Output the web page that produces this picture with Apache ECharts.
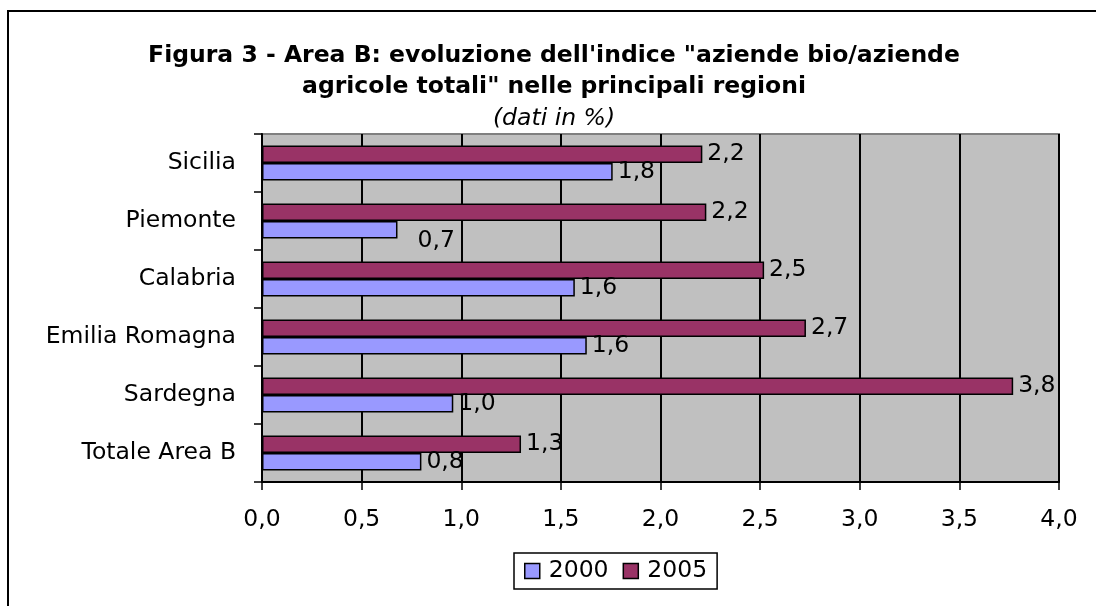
<!DOCTYPE html>
<html>
<head>
<meta charset="utf-8">
<script src="https://cdn.jsdelivr.net/npm/echarts@6/dist/echarts.min.js"></script>
<style>
  html, body { margin: 0; padding: 0; background: #fff; }
  #chart { width: 1096px; height: 606px; }
</style>
</head>
<body>
<div id="chart"></div>
<script>
// categories listed bottom -> top, as the category axis draws them
const regions = ['Totale Area B', 'Sardegna', 'Emilia Romagna', 'Calabria', 'Piemonte', 'Sicilia']
const values2000 = [0.80, 0.96, 1.63, 1.57, 0.68, 1.76]
const values2005 = [1.30, 3.77, 2.73, 2.52, 2.23, 2.21]
const xTicks = [0, 0.5, 1, 1.5, 2, 2.5, 3, 3.5, 4]

const fontFamily = 'DejaVu Sans, Verdana, sans-serif'
const fontSize = 23.5
const fmt = v => v.toFixed(1).replace('.', ',')

const mychart = echarts.init(document.getElementById('chart'), null, { renderer: 'canvas' })

const seriesData = (values, name) => values.map((v, i) => {
  const item = { value: v }
  // Excel pushed the Piemonte 2000 label a bit off the bar end
  if (name === '2000' && regions[i] === 'Piemonte') {
    item.label = { offset: [15, 11] }
  }
  return item
})

const barLabel = {
  show: true,
  position: 'right',
  distance: 5,
  color: '#000',
  fontFamily: fontFamily,
  fontSize: fontSize,
  formatter: p => fmt(p.value)
}

mychart.setOption({
  animation: false,
  backgroundColor: '#fff',
  title: {
    text: 'Figura 3 - Area B: evoluzione dell\'indice "aziende bio/aziende\nagricole totali" nelle principali regioni',
    subtext: '(dati in %)',
    left: 549,
    top: 35,
    textAlign: 'center',
    itemGap: 2,
    textStyle: {
      fontFamily: fontFamily,
      fontSize: fontSize,
      fontWeight: 'bold',
      color: '#000',
      lineHeight: 31
    },
    subtextStyle: {
      fontFamily: fontFamily,
      fontSize: fontSize,
      fontStyle: 'italic',
      color: '#000',
      lineHeight: 29
    }
  },
  legend: {
    data: ['2000', '2005'],
    left: 514,
    top: 553,
    padding: [6, 10, 6, 10],
    icon: 'rect',
    itemWidth: 15,
    itemHeight: 15,
    itemGap: 14,
    borderColor: '#000',
    borderWidth: 1.5,
    itemStyle: { borderColor: '#000', borderWidth: 1.5 },
    textStyle: { fontFamily: fontFamily, fontSize: fontSize, color: '#000', padding: [0, 0, 0, 4] }
  },
  graphic: [{
    type: 'rect',
    shape: { x: 8, y: 11, width: 1100, height: 600 },
    style: { fill: 'none', stroke: '#000', lineWidth: 2 },
    silent: true
  }],
  grid: {
    left: 262,
    right: 37,
    top: 134,
    bottom: 124,
    show: true,
    backgroundColor: '#C0C0C0',
    borderColor: '#808080',
    borderWidth: 2
  },
  xAxis: {
    type: 'value',
    min: xTicks[0],
    max: xTicks[xTicks.length - 1],
    interval: 0.5,
    axisLine: { show: true, lineStyle: { color: '#000', width: 2 } },
    axisTick: { show: true, length: 8, lineStyle: { color: '#000', width: 1.5 } },
    splitLine: { show: true, lineStyle: { color: '#000', width: 2 } },
    axisLabel: {
      margin: 26,
      fontFamily: fontFamily,
      fontSize: fontSize,
      color: '#000',
      formatter: v => fmt(v)
    }
  },
  yAxis: {
    type: 'category',
    data: regions,
    axisLine: { show: true, lineStyle: { color: '#000', width: 2 } },
    axisTick: { show: true, length: 8, lineStyle: { color: '#000', width: 1.5 } },
    axisLabel: {
      margin: 26,
      fontFamily: fontFamily,
      fontSize: fontSize,
      color: '#000'
    }
  },
  // 2005 listed first so it sits above 2000 inside each band
  series: [{
    name: '2005',
    type: 'bar',
    data: seriesData(values2005, '2005'),
    barGap: '0%',
    barCategoryGap: '40%',
    itemStyle: { color: '#993366', borderColor: '#000', borderWidth: 1.5 },
    label: barLabel
  }, {
    name: '2000',
    type: 'bar',
    data: seriesData(values2000, '2000'),
    barGap: '0%',
    barCategoryGap: '40%',
    itemStyle: { color: '#9999FF', borderColor: '#000', borderWidth: 1.5 },
    label: barLabel
  }]
})
</script>
</body>
</html>
